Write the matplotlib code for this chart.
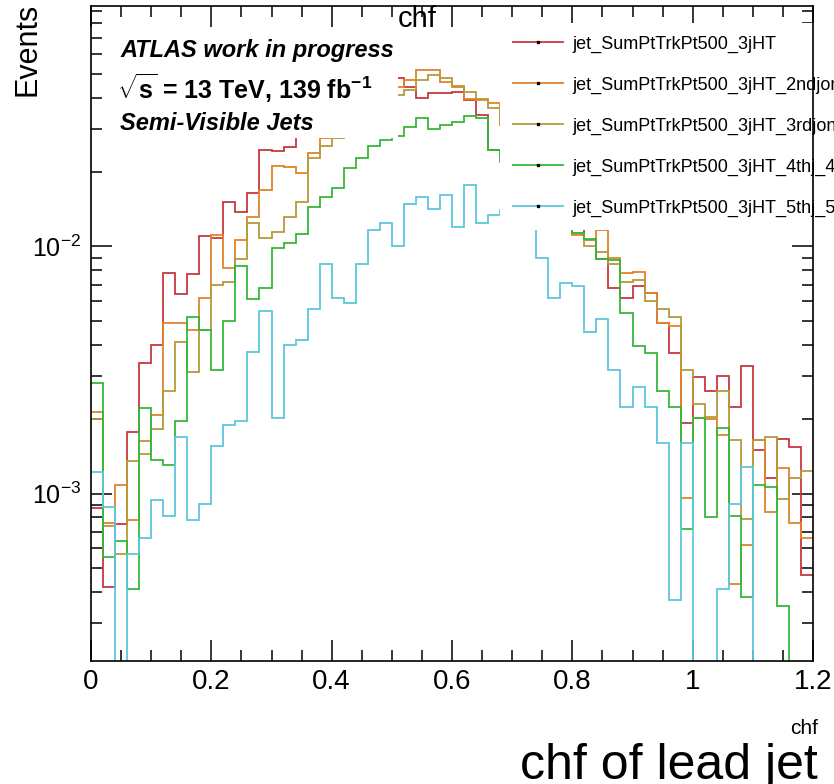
import numpy as np
import matplotlib
matplotlib.use('Agg')
import matplotlib.pyplot as plt
import matplotlib.ticker as ticker
from matplotlib.lines import Line2D
from matplotlib.patches import Rectangle

plt.rcParams['font.family'] = ['Liberation Sans', 'DejaVu Sans']
plt.rcParams['mathtext.fontset'] = 'custom'
plt.rcParams['mathtext.rm'] = 'Liberation Sans'
plt.rcParams['mathtext.bf'] = 'Liberation Sans:bold'
plt.rcParams['mathtext.it'] = 'Liberation Sans:italic'

# binning of chf
x_lo = 0.0
x_hi = 1.2
n_bins = 60

labels = ['jet_SumPtTrkPt500_3jHT',
          'jet_SumPtTrkPt500_3jHT_2ndjonly',
          'jet_SumPtTrkPt500_3jHT_3rdjonly',
          'jet_SumPtTrkPt500_3jHT_4thj_4thjonly',
          'jet_SumPtTrkPt500_3jHT_5thj_5thjonly']
colors = ['#c8373f', '#e0842c', '#b89a3c', '#35b83a', '#5cc8dc']

# normalised events per bin
h_lead = [8.7e-4, 4.2e-4, 7.5e-4, 1.77e-3, 3.36e-3, 4.0e-3, 7.8e-3, 6.4e-3, 7.7e-3, 1.10e-2,
          1.08e-2, 1.51e-2, 1.38e-2, 1.64e-2, 2.46e-2, 2.43e-2, 2.52e-2, 0.028, 0.031, 0.033,
          0.036, 0.038, 0.041, 0.043, 0.045, 0.048, 0.044, 0.040, 0.0416, 0.0416,
          0.042, 0.039, 0.0339, 0.0245, 0.023, 0.021, 0.019, 0.017, 0.015, 0.013,
          0.0119, 0.0106, 0.0089, 0.00676, 0.0062, 0.0069, 0.0065, 0.0049, 0.0037, 0.00193,
          0.00295, 0.00259, 0.0030, 0.00223, 0.00327, 0.0015, 0.00116, 0.00167, 0.00154, 0.00047]
h_2nd = [2.13e-3, 7.6e-4, 1.08e-3, 7.8e-4, 1.63e-3, 2.07e-3, 4.9e-3, 4.9e-3, 4.6e-3, 6.2e-3,
         1.11e-2, 8.15e-3, 1.06e-2, 1.32e-2, 1.70e-2, 2.11e-2, 2.09e-2, 1.99e-2, 2.40e-2, 2.74e-2,
         0.030, 0.033, 0.036, 0.039, 0.042, 0.044, 0.047, 0.0516, 0.0516, 0.0461,
         0.0440, 0.0394, 0.0394, 0.0379, 0.032, 0.028, 0.024, 0.020, 0.017, 0.0135,
         0.0111, 0.0106, 0.0117, 0.0090, 0.0078, 0.0079, 0.0065, 0.0049, 0.00475, 0.00096,
         0.00203, 0.0020, 0.00172, 0.00043, 0.00062, 0.00164, 0.00084, 0.00127, 0.00076, 0.00066]
h_3rd = [2.0e-3, 7.4e-4, 5.7e-4, 1.35e-3, 1.45e-3, 1.83e-3, 2.59e-3, 4.12e-3, 3.09e-3, 4.57e-3,
         6.95e-3, 7.15e-3, 8.86e-3, 1.25e-2, 1.08e-2, 1.14e-2, 1.31e-2, 1.52e-2, 2.29e-2, 2.56e-2,
         0.0274, 0.030, 0.033, 0.036, 0.039, 0.041, 0.0428, 0.0470, 0.0492, 0.0479,
         0.0448, 0.0420, 0.0390, 0.0362, 0.031, 0.027, 0.023, 0.019, 0.016, 0.013,
         0.0113, 0.0100, 0.0095, 0.0085, 0.0072, 0.0073, 0.0060, 0.0056, 0.0052, 0.00315,
         0.0023, 0.00205, 0.0026, 0.00165, 0.00079, 0.00165, 0.0017, 0.00095, 0.00116, 0.00123]
h_4th = [2.79e-3, 5.56e-4, 6.4e-4, 4.1e-4, 2.21e-3, 1.37e-3, 1.31e-3, 1.96e-3, 5.2e-3, 4.57e-3,
         3.15e-3, 5.0e-3, 8.3e-3, 6.1e-3, 6.8e-3, 9.9e-3, 1.03e-2, 1.12e-2, 1.44e-2, 1.58e-2,
         1.72e-2, 2.07e-2, 2.29e-2, 2.54e-2, 2.69e-2, 2.8e-2, 0.0303, 0.0330, 0.0300, 0.0309,
         0.0318, 0.0336, 0.0330, 0.0245, 0.022, 0.020, 0.018, 0.016, 0.014, 0.0125,
         0.0113, 0.0107, 0.0089, 0.0088, 0.0054, 0.00397, 0.0037, 0.0026, 0.00225, 0.00072,
         0.00203, 0.0008, 0.00185, 0.00081, 0.00038, 0.00108, 0.00106, 0.00035, 0, 0]
h_5th = [1.22e-3, 8.8e-4, 0, 5.7e-4, 6.6e-4, 9.4e-4, 8.1e-4, 1.69e-3, 7.8e-4, 9.1e-4,
         1.56e-3, 1.9e-3, 1.96e-3, 3.73e-3, 5.5e-3, 2.03e-3, 4.0e-3, 4.2e-3, 5.56e-3, 8.5e-3,
         6.2e-3, 5.9e-3, 8.5e-3, 1.17e-2, 1.25e-2, 1.0e-2, 1.48e-2, 1.58e-2, 1.42e-2, 1.62e-2,
         1.2e-2, 1.77e-2, 1.24e-2, 1.34e-2, 0.014, 0.014, 0.013, 9.0e-3, 6.2e-3, 7.1e-3,
         6.9e-3, 4.5e-3, 5.1e-3, 3.17e-3, 2.23e-3, 2.69e-3, 2.23e-3, 1.6e-3, 3.7e-4, 1.6e-3,
         0, 0, 4.1e-4, 9.1e-4, 1.28e-3, 0, 0, 0, 0, 0]

W, H = 834, 784
fig = plt.figure(figsize=(W / 100, H / 100), dpi=100)
# frame in pixels: left 91, right 813, top 6, bottom 661
ax = fig.add_axes([91 / W, 1 - 661 / H, 722 / W, 655 / H])

edges = np.linspace(x_lo, x_hi, n_bins + 1)
for vals, c in zip([h_lead, h_2nd, h_3rd, h_4th, h_5th], colors):
    v = np.array(vals, dtype=float)
    v = np.where(v > 0, v, 1e-9)  # empty bins fall below the axis
    ax.stairs(v, edges, baseline=None, color=c, lw=1.3, zorder=2)

ax.set_yscale('log')
ax.set_xlim(x_lo, x_hi)
ax.set_ylim(2.1e-4, 0.094)

ax.xaxis.set_major_locator(ticker.MultipleLocator(0.2))
ax.xaxis.set_minor_locator(ticker.MultipleLocator(0.05))
ax.xaxis.set_major_formatter(ticker.FuncFormatter(lambda v, p: '%g' % round(v, 3)))
ax.yaxis.set_major_locator(ticker.LogLocator(base=10))
ax.yaxis.set_minor_locator(ticker.LogLocator(base=10, subs=np.arange(2, 10)))
ax.yaxis.set_minor_formatter(ticker.NullFormatter())
ax.tick_params(which='both', direction='in', top=True, right=True, width=1.1)
ax.tick_params(which='major', length=15, labelsize=20)
ax.tick_params(axis='y', which='major', labelsize=18)
ax.tick_params(axis='x', which='major', pad=6)
ax.tick_params(axis='y', which='major', pad=7)
ax.tick_params(which='minor', length=8)
for s in ax.spines.values():
    s.set_linewidth(1.2)
    s.set_zorder(6)

# white box behind the ATLAS label
ax.add_patch(Rectangle(((113 - 91) / 722, (661 - 138) / 655), (398 - 113) / 722, (138 - 28) / 655,
                       transform=ax.transAxes, facecolor='white', edgecolor='none', zorder=3))
ax.text((120 - 91) / 722, (661 - 50) / 655, 'ATLAS work in progress', transform=ax.transAxes,
        fontsize=17, fontweight='bold', style='italic', va='center', zorder=4)
ax.text((117 - 91) / 722, (661 - 88) / 655, r'$\mathbf{\sqrt{s}}$ = 13 TeV, 139 fb$^{\mathbf{-1}}$',
        transform=ax.transAxes, fontsize=18, fontweight='bold', va='center', zorder=4)
ax.text((120 - 91) / 722, (661 - 123) / 655, 'Semi-Visible Jets', transform=ax.transAxes,
        fontsize=17, fontweight='bold', style='italic', va='center', zorder=4)

handles = [Line2D([], [], color=c, lw=1.3, marker='s', markersize=1.5,
                  markerfacecolor='k', markeredgecolor='k') for c in colors]
leg = ax.legend(handles, labels, loc='upper left', bbox_to_anchor=(491 / W, 1 - 14 / H),
                bbox_transform=fig.transFigure, fontsize=13, frameon=True, fancybox=False,
                edgecolor='none', facecolor='white', framealpha=1, borderpad=0.7,
                handlelength=2.8, handletextpad=0.5, labelspacing=1.32, numpoints=1)
leg.set_zorder(5)

fig.text(417 / W, 1 - 19 / H, 'chf', ha='center', va='center', fontsize=21)
fig.text(27 / W, 1 - 3 / H, 'Events', rotation=90, ha='center', va='top', fontsize=22)
fig.text(818 / W, 1 - 734 / H, 'chf', ha='right', va='baseline', fontsize=15)
fig.text(818 / W, 1 - 779 / H, 'chf of lead jet', ha='right', va='baseline', fontsize=36)

fig.savefig('out.png', dpi=100)
